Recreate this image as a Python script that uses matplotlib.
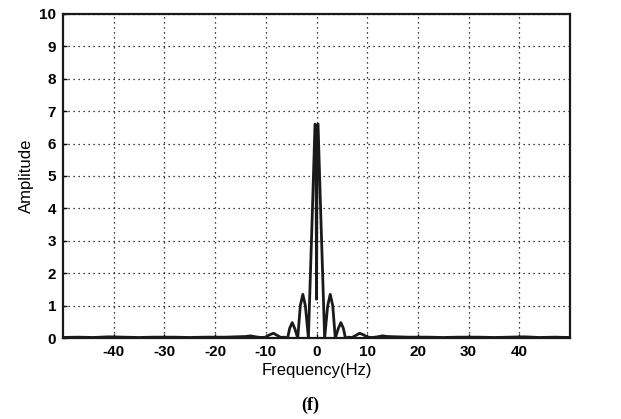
import matplotlib.pyplot as plt

plt.rcParams['axes.unicode_minus'] = False

freq = [-50, -47, -44, -41, -38, -35, -32, -28, -25, -22, -18, -16, -14, -13, -12, -11,
        -10, -9.3, -8.5, -7.7, -7, -6.3, -5.7, -5.3, -4.8, -4.3, -3.7, -3.2, -2.7, -2.2,
        -1.6, -1.2, -0.8, -0.3, -0.12, 0,
        0.12, 0.3, 0.8, 1.2, 1.6, 2.2, 2.7, 3.2, 3.7, 4.3, 4.8, 5.3, 5.7, 6.3, 7,
        7.7, 8.5, 9.3, 10, 11, 12, 13, 14, 16, 18, 22, 25, 28, 32, 35, 38, 41, 44, 47, 50]
amp = [0.02, 0.03, 0.02, 0.04, 0.03, 0.02, 0.03, 0.03, 0.02, 0.03, 0.03, 0.04, 0.05, 0.07, 0.04, 0.02,
       0.03, 0.1, 0.15, 0.08, 0.02, 0.03, 0.0, 0.3, 0.48, 0.3, 0.0, 1.0, 1.35, 1.0,
       0.0, 2.0, 4.0, 6.6, 6.55, 1.2,
       6.55, 6.6, 4.0, 2.0, 0.0, 1.0, 1.35, 1.0, 0.0, 0.3, 0.48, 0.3, 0.0, 0.03, 0.02,
       0.08, 0.15, 0.1, 0.03, 0.02, 0.04, 0.07, 0.05, 0.04, 0.03, 0.03, 0.02, 0.03, 0.03, 0.02, 0.03, 0.04, 0.02, 0.03, 0.02]

xticks = [-40, -30, -20, -10, 0, 10, 20, 30, 40]
yticks = list(range(0, 11))

fig = plt.figure(figsize=(6.21, 4.19), dpi=100)
ax = fig.add_axes([0.1014, 0.193, 0.8166, 0.774])

ax.plot(freq, amp, color='#1a1a1a', linewidth=2)

ax.set_xlim(-50, 50)
ax.set_ylim(0, 10)
ax.set_xticks(xticks)
ax.set_yticks(yticks)
ax.grid(True, linestyle=(0, (1, 3)), color='black', linewidth=0.9)
ax.tick_params(direction='in', length=3, width=1, pad=5)
for lab in ax.get_xticklabels() + ax.get_yticklabels():
    lab.set_fontweight('bold')
    lab.set_fontsize(11)
    lab.set_family('Liberation Sans')
for s in ax.spines.values():
    s.set_linewidth(1.6)
    s.set_color('#1a1a1a')

ax.set_xlabel('Frequency(Hz)', fontsize=12, family='Liberation Sans', labelpad=3)
ax.set_ylabel('Amplitude', fontsize=12, family='Liberation Sans', labelpad=4)
fig.text(0.5, 0.033, '(f)', ha='center', va='center', fontsize=13,
         family='Liberation Serif', fontweight='bold')

fig.savefig('out.png')
